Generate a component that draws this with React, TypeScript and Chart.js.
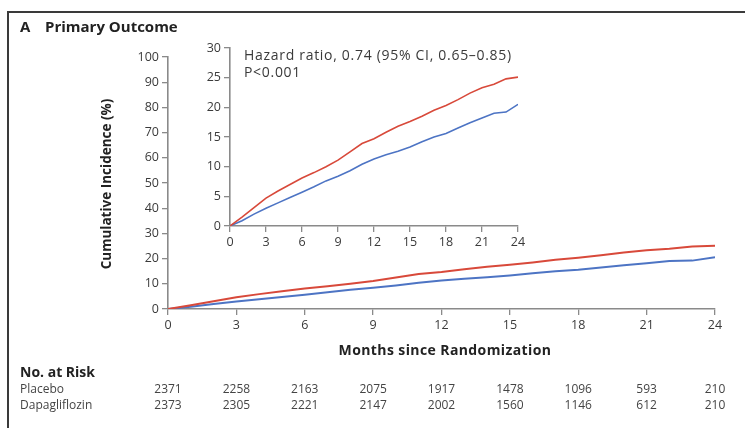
import React, { useEffect, useRef } from 'react';
import { Chart, registerables } from 'chart.js';

Chart.register(...registerables);

const W = 745;
const H = 428;

// Months since randomization
const months = [0, 1, 2, 3, 4, 5, 6, 7, 8, 9, 10, 11, 12, 13, 14, 15, 16, 17, 18, 19, 20, 21, 22, 23, 24];
// Cumulative incidence (%)
const placebo = [0, 1.5, 3.1, 4.7, 5.9, 7.0, 8.1, 9.0, 10.0, 11.1, 12.5, 13.9, 14.7, 15.8, 16.8, 17.6, 18.5, 19.5, 20.3, 21.3, 22.4, 23.3, 23.9, 24.8, 25.1];
const dapagliflozin = [0, 0.9, 2.0, 3.0, 3.9, 4.8, 5.7, 6.6, 7.6, 8.4, 9.3, 10.4, 11.3, 12.0, 12.6, 13.3, 14.2, 15.0, 15.6, 16.5, 17.4, 18.2, 19.0, 19.2, 20.5];

const tickMonths = [0, 3, 6, 9, 12, 15, 18, 21, 24];
const riskPlacebo = ['2371', '2258', '2163', '2075', '1917', '1478', '1096', '593', '210'];
const riskDapagliflozin = ['2373', '2305', '2221', '2147', '2002', '1560', '1146', '612', '210'];

const groupLabels = ['Placebo', 'Dapagliflozin'];
const titleLetter = 'A';
const titleText = 'Primary Outcome';
const yTitle = 'Cumulative Incidence (%)';
const xTitle = 'Months since Randomization';
const riskTitle = 'No. at Risk';
const hrText = 'Hazard ratio, 0.74 (95% CI, 0.65\u20130.85)';
const pText = 'P<0.001';

const RED = '#d8493a';
const BLUE = '#4d74c4';
const AXIS = '#8a8a8a';
const TICK_TEXT = '#3a3a3a';
const FONT = "'Open Sans', sans-serif";

const pts = (ys: number[]) => months.map((m, i) => ({ x: m, y: ys[i] }));

export default function App() {
  const mainRef = useRef<HTMLCanvasElement | null>(null);
  const insetRef = useRef<HTMLCanvasElement | null>(null);

  useEffect(() => {
    const decor = {
      id: 'decor',
      afterDraw(chart: any) {
        const ctx = chart.ctx;
        const xs = chart.scales.x;
        ctx.save();
        // frame
        ctx.strokeStyle = '#3a3a3a';
        ctx.lineWidth = 2;
        ctx.beginPath();
        ctx.moveTo(8, H);
        ctx.lineTo(8, 12);
        ctx.lineTo(W, 12);
        ctx.stroke();
        // title
        ctx.fillStyle = '#222';
        ctx.textBaseline = 'middle';
        ctx.textAlign = 'left';
        ctx.font = `bold 15px ${FONT}`;
        ctx.fillText(titleLetter, 20, 28);
        ctx.fillText(titleText, 45, 28);
        // y title
        ctx.save();
        ctx.translate(107, 184);
        ctx.rotate(-Math.PI / 2);
        ctx.textAlign = 'center';
        ctx.font = `bold 13.5px ${FONT}`;
        ctx.fillText(yTitle, 0, 0);
        ctx.restore();
        // x title
        ctx.textAlign = 'center';
        ctx.font = `bold 14px ${FONT}`;
        (ctx as any).letterSpacing = '0.4px';
        ctx.fillText(xTitle, 445, 351);
        (ctx as any).letterSpacing = '0px';
        // risk table
        ctx.textAlign = 'left';
        ctx.font = `bold 14px ${FONT}`;
        ctx.fillText(riskTitle, 20, 373);
        ctx.font = `12px ${FONT}`;
        ctx.fillStyle = '#444';
        ctx.fillText(groupLabels[0], 20, 390);
        ctx.fillText(groupLabels[1], 20, 406);
        ctx.textAlign = 'center';
        tickMonths.forEach((m, i) => {
          const px = xs.getPixelForValue(m);
          ctx.fillText(riskPlacebo[i], px, 390);
          ctx.fillText(riskDapagliflozin[i], px, 406);
        });
        ctx.restore();
      },
    };

    const axisCommon = (min: number, max: number, step: number) => ({
      type: 'linear' as const,
      min,
      max,
      ticks: {
        stepSize: step,
        color: TICK_TEXT,
        font: { family: FONT, size: 12.5 },
        padding: 3,
      },
      grid: {
        drawOnChartArea: false,
        drawTicks: true,
        tickLength: 6,
        color: AXIS,
        lineWidth: 1.3,
      },
      border: { color: AXIS, width: 1.6 },
    });

    const main = new Chart(mainRef.current!, {
      type: 'line',
      data: {
        datasets: [
          { label: 'Placebo', data: pts(placebo), borderColor: RED, borderWidth: 2, pointRadius: 0, fill: false, tension: 0 },
          { label: 'Dapagliflozin', data: pts(dapagliflozin), borderColor: BLUE, borderWidth: 2, pointRadius: 0, fill: false, tension: 0 },
        ],
      },
      options: {
        animation: false,
        responsive: false,
        devicePixelRatio: 1,
        layout: { padding: { left: 0, top: 57, right: 30, bottom: 0 } },
        plugins: { legend: { display: false }, tooltip: { enabled: false } },
        scales: {
          x: { ...axisCommon(0, 24, 3), afterFit: (s: any) => { s.height = H - 309; } },
          y: { ...axisCommon(0, 100, 10), afterFit: (s: any) => { s.width = 168; } },
        },
      },
      plugins: [decor],
    } as any);

    const insetText = {
      id: 'insetText',
      afterDraw(chart: any) {
        const ctx = chart.ctx;
        ctx.save();
        ctx.fillStyle = '#3a3a3a';
        ctx.textBaseline = 'middle';
        ctx.textAlign = 'left';
        ctx.font = `14px ${FONT}`;
        (ctx as any).letterSpacing = '0.7px';
        ctx.fillText(hrText, 244, 56);
        ctx.fillText(pText, 244, 73);
        ctx.restore();
      },
    };

    const inset = new Chart(insetRef.current!, {
      type: 'line',
      data: {
        datasets: [
          { label: 'Placebo', data: pts(placebo), borderColor: RED, borderWidth: 1.6, pointRadius: 0, fill: false, tension: 0 },
          { label: 'Dapagliflozin', data: pts(dapagliflozin), borderColor: BLUE, borderWidth: 1.6, pointRadius: 0, fill: false, tension: 0 },
        ],
      },
      options: {
        animation: false,
        responsive: false,
        devicePixelRatio: 1,
        layout: { padding: { left: 0, top: 48, right: W - 518, bottom: 0 } },
        plugins: { legend: { display: false }, tooltip: { enabled: false } },
        scales: {
          x: { ...axisCommon(0, 24, 3), afterFit: (s: any) => { s.height = H - 226; } },
          y: { ...axisCommon(0, 30, 5), afterFit: (s: any) => { s.width = 230; } },
        },
      },
      plugins: [insetText],
    } as any);

    return () => {
      main.destroy();
      inset.destroy();
    };
  }, []);

  return (
    <div style={{ position: 'fixed', left: 0, top: 0, width: W, height: H, background: '#fff' }}>
      <canvas ref={mainRef} width={W} height={H} style={{ position: 'absolute', left: 0, top: 0, width: W, height: H }} />
      <canvas ref={insetRef} width={W} height={H} style={{ position: 'absolute', left: 0, top: 0, width: W, height: H }} />
    </div>
  );
}
